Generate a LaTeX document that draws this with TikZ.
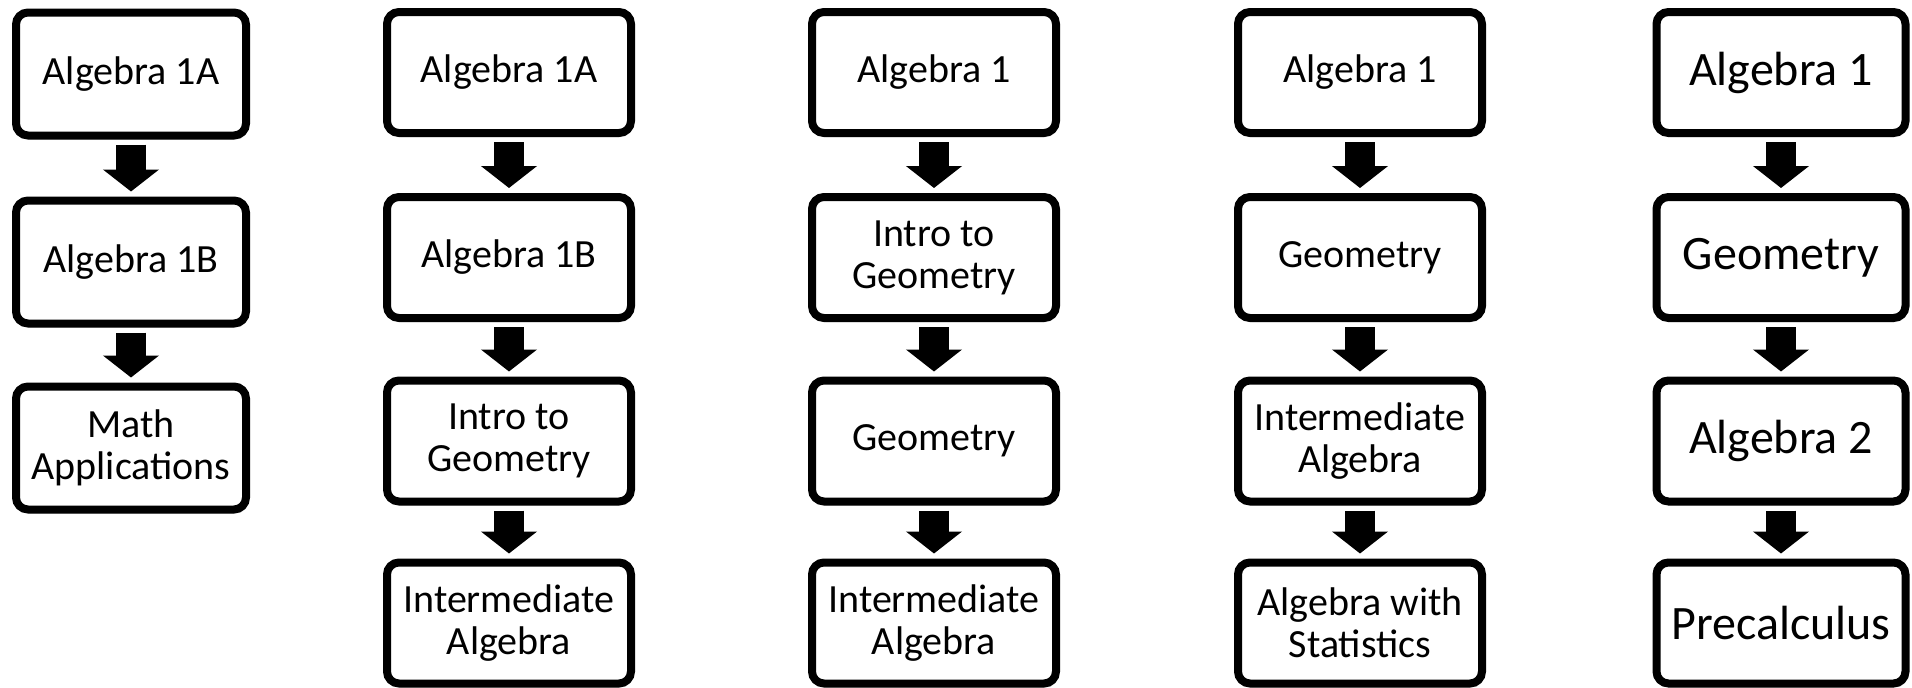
\documentclass[tikz,border=0pt]{standalone}
\usepackage{fontspec}
\setmainfont{Carlito}
\usetikzlibrary{arrows.meta,shadows}
\tikzset{
    course/.style={draw, line width=4pt, rounded corners=6pt, fill=white,
        align=center, inner sep=2pt, minimum width=122pt, minimum height=60.5pt,
        font=\fontsize{20pt}{21pt}\selectfont,
        drop shadow={shadow xshift=1pt, shadow yshift=-2pt, opacity=.25}},
    smallcourse/.style={course, minimum width=115pt, minimum height=61.5pt},
    bigcourse/.style={course, minimum width=124.5pt, font=\fontsize{24pt}{26pt}\selectfont},
    flow/.style={line width=15pt, -{Triangle[width=27.5pt,length=11pt]},
        shorten <=2.5pt, shorten >=2.5pt}
}
\begin{document}
\begin{tikzpicture}[x=0.5pt,y=-0.5pt]
        \useasboundingbox (0,0) rectangle (1912,687);

        % first path
        \node[smallcourse] (aone) at (131,74) {Algebra 1A};
        \node[smallcourse] (atwo) at (131,262) {Algebra 1B};
        \node[smallcourse] (amath) at (131,448) {Math\\Applications};
        \draw[flow] (aone) -- (atwo);
        \draw[flow] (atwo) -- (amath);

        % second path
        \node[course] (bone) at (509,72.5) {Algebra 1A};
        \node[course] (btwo) at (509,257.5) {Algebra 1B};
        \node[course] (bgeo) at (509,441) {Intro to\\Geometry};
        \node[course] (binter) at (509,623) {Intermediate\\Algebra};
        \draw[flow] (bone) -- (btwo);
        \draw[flow] (btwo) -- (bgeo);
        \draw[flow] (bgeo) -- (binter);

        % third path
        \node[course] (cone) at (934,72.5) {Algebra 1};
        \node[course] (cintro) at (934,257.5) {Intro to\\Geometry};
        \node[course] (cgeo) at (934,441) {Geometry};
        \node[course] (cinter) at (934,623) {Intermediate\\Algebra};
        \draw[flow] (cone) -- (cintro);
        \draw[flow] (cintro) -- (cgeo);
        \draw[flow] (cgeo) -- (cinter);

        % fourth path
        \node[course] (done) at (1360,72.5) {Algebra 1};
        \node[course] (dgeo) at (1360,257.5) {Geometry};
        \node[course] (dinter) at (1360,441) {Intermediate\\Algebra};
        \node[course] (dstat) at (1360,623) {Algebra with\\Statistics};
        \draw[flow] (done) -- (dgeo);
        \draw[flow] (dgeo) -- (dinter);
        \draw[flow] (dinter) -- (dstat);

        % fifth path
        \node[bigcourse] (eone) at (1781,72.5) {Algebra 1};
        \node[bigcourse] (egeo) at (1781,257.5) {Geometry};
        \node[bigcourse] (etwo) at (1781,441) {Algebra 2};
        \node[bigcourse] (epre) at (1781,623) {Precalculus};
        \draw[flow] (eone) -- (egeo);
        \draw[flow] (egeo) -- (etwo);
        \draw[flow] (etwo) -- (epre);
    \end{tikzpicture}
\end{document}
